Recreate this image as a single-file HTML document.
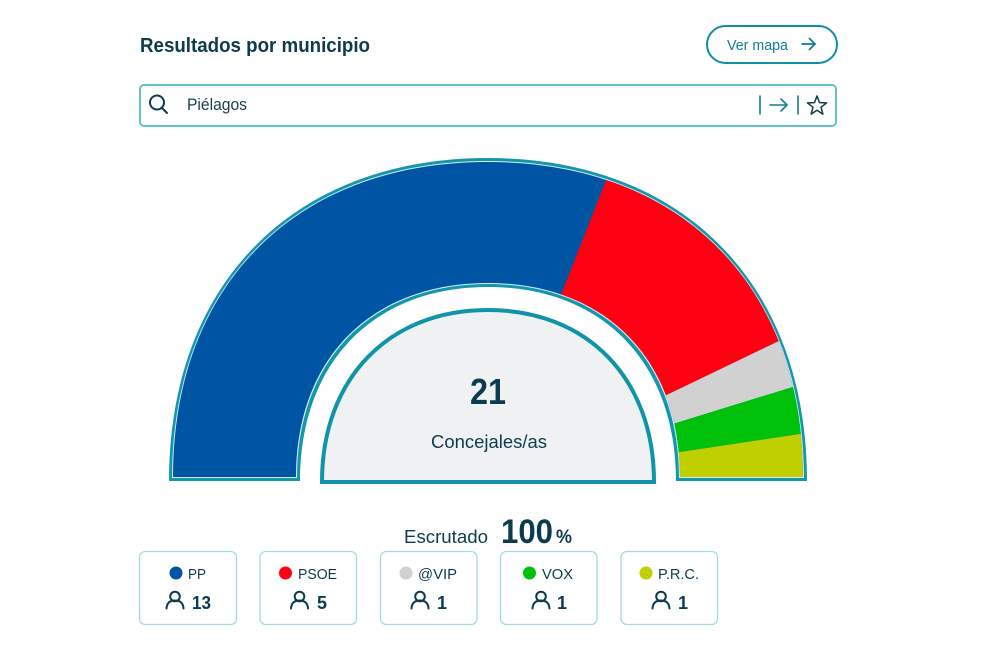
<!DOCTYPE html>
<html>
<head>
<meta charset="utf-8">
<style>
  html,body{margin:0;padding:0;background:#fff;}
  body{width:985px;height:659px;overflow:hidden;}
  svg{display:block;}
  text{font-family:"Liberation Sans", sans-serif;}
</style>
</head>
<body>
<svg width="985" height="659" viewBox="0 0 985 659" xmlns="http://www.w3.org/2000/svg">
  <defs>
    <clipPath id="ringclip">
      <path d="M173,477 C173,284.85 295.85,162 488,162 C680.15,162 803,284.85 803,477 L680,477 C680,358.66 605.12,283 488,283 C370.88,283 296,358.66 296,477 Z"/>
    </clipPath>
  </defs>

  <!-- Header -->
  <text x="140" y="52" font-size="20" font-weight="bold" fill="#0d3b4e" textLength="230" lengthAdjust="spacingAndGlyphs">Resultados por municipio</text>

  <rect x="707" y="26" width="130" height="37" rx="18.5" ry="18.5" fill="#fff" stroke="#0f8ea4" stroke-width="2"/>
  <text x="727" y="50" font-size="14.5" fill="#0e7f95" textLength="61" lengthAdjust="spacingAndGlyphs">Ver mapa</text>
  <g stroke="#0e7f95" stroke-width="1.8" fill="none" stroke-linecap="round" stroke-linejoin="round">
    <line x1="802" y1="44" x2="815" y2="44"/>
    <polyline points="809.5,38.5 815,44 809.5,49.5"/>
  </g>

  <!-- Search box -->
  <rect x="140" y="85" width="696" height="41" rx="4" ry="4" fill="#fff" stroke="#62c3cf" stroke-width="2"/>
  <g stroke="#0d3b4e" stroke-width="2" fill="none" stroke-linecap="round">
    <circle cx="157" cy="102.5" r="7"/>
    <line x1="162" y1="108" x2="167" y2="113"/>
  </g>
  <text x="187" y="110" font-size="17" fill="#1a3d4d" textLength="60" lengthAdjust="spacingAndGlyphs">Piélagos</text>
  <g stroke="#0e7f95" stroke-width="1.6" fill="none" stroke-linecap="round" stroke-linejoin="round">
    <line x1="760" y1="96" x2="760" y2="114"/>
    <line x1="770" y1="105" x2="787" y2="105"/>
    <polyline points="781,99 787,105 781,111"/>
    <line x1="798" y1="96" x2="798" y2="114"/>
  </g>
  <polygon points="817,96 819.5,102.6 826.5,102.9 821,107.3 822.9,114.1 817,110.2 811.1,114.1 813,107.3 807.5,102.9 814.5,102.6" fill="none" stroke="#0d3b4e" stroke-width="1.5" stroke-linejoin="round"/>

  <!-- Ring: teal outline -->
  <path d="M169,481 C169,283.97 293.41,158 488,158 C682.59,158 807,283.97 807,481 L676,481 C676,362.66 602.68,287 488,287 C373.32,287 300,362.66 300,481 Z" fill="#1496ab"/>
  <!-- thin light line -->
  <path d="M172,478 C172,284.63 295.24,161 488,161 C680.76,161 804,284.63 804,478 L679,478 C679,359.66 604.51,284 488,284 C371.49,284 297,359.66 297,478 Z" fill="#d3eff3"/>
  <!-- colored segments -->
  <g clip-path="url(#ringclip)">
    <rect x="150" y="140" width="680" height="360" fill="#0054a4"/>
    <polygon points="488,481 641.4,90 920,90 866.4,298.8" fill="#ff0013"/>
    <polygon points="488,481 866.4,298.8 889.4,357.2" fill="#d1d1d1"/>
    <polygon points="488,481 889.4,357.2 903.3,418.4" fill="#00c10a"/>
    <polygon points="488,481 903.3,418.4 915,500 488,500" fill="#bfcf00"/>
  </g>

  <!-- Inner grey semicircle -->
  <path d="M322,482 C322,378.8 388.4,310 488,310 C587.6,310 654,378.8 654,482 Z" fill="#f0f1f3" stroke="#0f94a9" stroke-width="4" stroke-linejoin="miter"/>
  <text x="488" y="404" font-size="36" font-weight="bold" fill="#0d3b4e" text-anchor="middle" textLength="36" lengthAdjust="spacingAndGlyphs">21</text>
  <text x="431" y="448" font-size="18.5" fill="#0d3b4e" textLength="116" lengthAdjust="spacingAndGlyphs">Concejales/as</text>

  <!-- Escrutado -->
  <text x="404" y="543" font-size="18" fill="#0d3b4e" textLength="84" lengthAdjust="spacingAndGlyphs">Escrutado</text>
  <text x="501" y="543" font-size="34" font-weight="bold" fill="#0d3b4e" textLength="52" lengthAdjust="spacingAndGlyphs">100</text>
  <text x="556" y="543" font-size="19" font-weight="bold" fill="#0d3b4e" textLength="16" lengthAdjust="spacingAndGlyphs">%</text>

  <!-- Cards -->
  <g fill="#fff" stroke="#a7d9df" stroke-width="1.3">
    <rect x="139.5" y="551.5" width="97" height="73" rx="6" ry="6"/>
    <rect x="260" y="551.5" width="96.5" height="73" rx="6" ry="6"/>
    <rect x="380.5" y="551.5" width="96.5" height="73" rx="6" ry="6"/>
    <rect x="500.5" y="551.5" width="96.5" height="73" rx="6" ry="6"/>
    <rect x="621" y="551.5" width="96.5" height="73" rx="6" ry="6"/>
  </g>

  <!-- dots -->
  <circle cx="176" cy="573" r="6.5" fill="#0054a4"/>
  <circle cx="285.5" cy="573" r="6.5" fill="#ff0013"/>
  <circle cx="406" cy="573" r="6.5" fill="#d1d1d1"/>
  <circle cx="529.5" cy="573" r="6.5" fill="#00c10a"/>
  <circle cx="646" cy="573" r="6.5" fill="#bfcf00"/>

  <!-- names -->
  <g font-size="15" fill="#0d3b4e">
    <text x="188" y="579" textLength="18" lengthAdjust="spacingAndGlyphs">PP</text>
    <text x="298" y="579" textLength="39" lengthAdjust="spacingAndGlyphs">PSOE</text>
    <text x="418" y="579" textLength="39" lengthAdjust="spacingAndGlyphs">@VIP</text>
    <text x="542" y="579" textLength="31" lengthAdjust="spacingAndGlyphs">VOX</text>
    <text x="658" y="579" textLength="41" lengthAdjust="spacingAndGlyphs">P.R.C.</text>
  </g>

  <!-- person icons -->
  <g stroke="#0d3b4e" stroke-width="2" fill="none" stroke-linecap="round">
    <circle cx="175" cy="596.5" r="4.8"/>
    <path d="M166.5,608.5 Q167,600.5 175,600.5 Q183,600.5 183.5,608.5"/>
    <circle cx="299.5" cy="596.5" r="4.8"/>
    <path d="M291,608.5 Q291.5,600.5 299.5,600.5 Q307.5,600.5 308,608.5"/>
    <circle cx="420" cy="596.5" r="4.8"/>
    <path d="M411.5,608.5 Q412,600.5 420,600.5 Q428,600.5 428.5,608.5"/>
    <circle cx="541" cy="596.5" r="4.8"/>
    <path d="M532.5,608.5 Q533,600.5 541,600.5 Q549,600.5 549.5,608.5"/>
    <circle cx="661" cy="596.5" r="4.8"/>
    <path d="M652.5,608.5 Q653,600.5 661,600.5 Q669,600.5 669.5,608.5"/>
  </g>

  <!-- numbers -->
  <g font-size="18" font-weight="bold" fill="#0d3b4e">
    <text x="192" y="609" textLength="19" lengthAdjust="spacingAndGlyphs">13</text>
    <text x="317" y="609">5</text>
    <text x="437" y="609">1</text>
    <text x="557" y="609">1</text>
    <text x="678" y="609">1</text>
  </g>
</svg>
</body>
</html>
